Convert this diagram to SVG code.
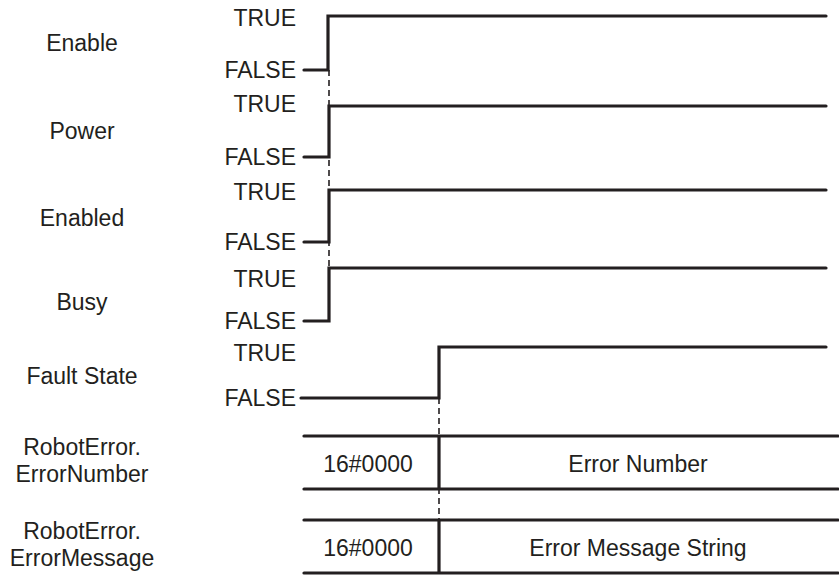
<svg xmlns="http://www.w3.org/2000/svg" width="839" height="576" viewBox="0 0 839 576">
<style>
text{font-family:"Liberation Sans",Arial,sans-serif;font-size:23px;fill:#231f20}
.lab{text-anchor:middle}
.lv{text-anchor:end}
.mid{text-anchor:middle}
.sig{fill:none;stroke:#231f20;stroke-width:3.2;stroke-linejoin:miter;stroke-linecap:round}
.bus{fill:none;stroke:#231f20;stroke-width:3.2;stroke-linecap:round}
.dash{fill:none;stroke:#231f20;stroke-width:1.6;stroke-dasharray:6 4}
</style>
<rect width="839" height="576" fill="#fff"/>
<g id="labels">
<text class="lab" x="82" y="51">Enable</text>
<text class="lab" x="82" y="139">Power</text>
<text class="lab" x="82" y="226">Enabled</text>
<text class="lab" x="82" y="310">Busy</text>
<text class="lab" x="82" y="384">Fault State</text>
<text class="lab" x="82" y="455">RobotError.</text>
<text class="lab" x="82" y="482">ErrorNumber</text>
<text class="lab" x="82" y="539">RobotError.</text>
<text class="lab" x="82" y="566">ErrorMessage</text>
</g>
<g id="levels">
<text class="lv" x="296" y="26">TRUE</text>
<text class="lv" x="296" y="78">FALSE</text>
<text class="lv" x="296" y="112">TRUE</text>
<text class="lv" x="296" y="165">FALSE</text>
<text class="lv" x="296" y="200">TRUE</text>
<text class="lv" x="296" y="250">FALSE</text>
<text class="lv" x="296" y="287">TRUE</text>
<text class="lv" x="296" y="329">FALSE</text>
<text class="lv" x="296" y="361">TRUE</text>
<text class="lv" x="296" y="406">FALSE</text>
</g>
<g id="connectors">
<line class="dash" x1="329" y1="70" x2="329" y2="321"/>
<line class="dash" x1="439" y1="398" x2="439" y2="573"/>
</g>
<g id="enable"><polyline class="sig" points="304,70 328,70 328,16 826,16"/></g>
<g id="power"><polyline class="sig" points="304,157 329,157 329,106 826,106"/></g>
<g id="enabled"><polyline class="sig" points="304,242 329,242 329,190 826,190"/></g>
<g id="busy"><polyline class="sig" points="304,321 329,321 329,268 826,268"/></g>
<g id="fault"><polyline class="sig" points="301,398 439,398 439,347 826,347"/></g>
<g id="errnum">
<line class="bus" x1="304" y1="436" x2="838" y2="436"/>
<line class="bus" x1="304" y1="489" x2="838" y2="489"/>
<line class="bus" x1="439" y1="436" x2="439" y2="489" style="stroke-linecap:butt"/>
<text class="mid" x="368" y="472">16#0000</text>
<text class="mid" x="638" y="472">Error Number</text>
</g>
<g id="errmsg">
<line class="bus" x1="304" y1="520" x2="838" y2="520"/>
<line class="bus" x1="304" y1="573" x2="838" y2="573"/>
<line class="bus" x1="439" y1="520" x2="439" y2="573" style="stroke-linecap:butt"/>
<text class="mid" x="368" y="556">16#0000</text>
<text class="mid" x="638" y="556">Error Message String</text>
</g>
</svg>
